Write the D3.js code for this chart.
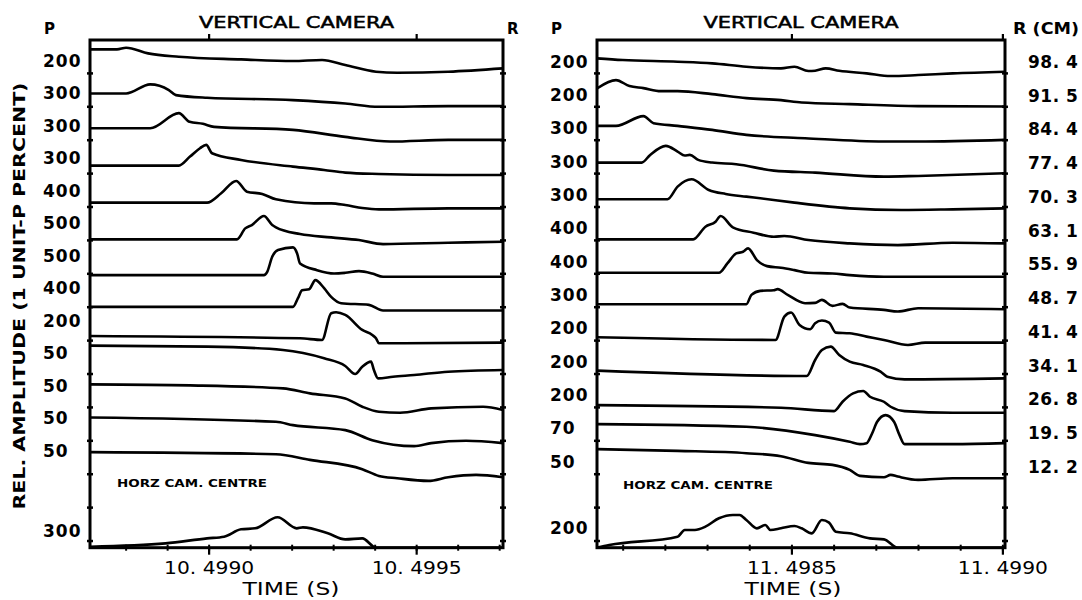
<!DOCTYPE html>
<html>
<head>
<meta charset="utf-8">
<script src="https://cdn.jsdelivr.net/npm/d3@7"></script>
<style>
  body { margin: 0; background: #fff; }
  svg { display: block; }
  text { fill: #000; font-family: "DejaVu Sans", sans-serif; }
</style>
</head>
<body>
<svg id="chart" width="1082" height="600"></svg>
<script>
// ---------------- data ----------------
// time windows (s) of the two record sections
const leftDomain  = [10.498713, 10.499708];
const rightDomain = [11.498038, 11.499005];
const leftMajorTicks  = [10.4990, 10.4995];
const rightMajorTicks = [11.4985, 11.4990];
const leftTickLabels  = ["10. 4990", "10. 4995"];
const rightTickLabels = ["11. 4985", "11. 4990"];
const leftMinorTicks  = d3.range(10.4988, 10.49971, 0.0001);
const rightMinorTicks = d3.range(11.4981, 11.49901, 0.0001);

// P (per cent per unit) for each trace, top to bottom
const leftP  = ["200","300","300","300","400","500","500","400","200","50","50","50","50"];
const rightP = ["200","200","300","300","300","400","400","300","200","200","200","70","50"];
const leftHorzP  = "300";
const rightHorzP = "200";
// source distance R (cm) for the right section
const rightR = ["98. 4","91. 5","84. 4","77. 4","70. 3","63. 1","55. 9","48. 7","41. 4","34. 1","26. 8","19. 5","12. 2"];

// traces: [time (s), relative amplitude (1/100 trace spacing)]
const leftTraces = [
  [[10.498713,72],[10.498778,72],[10.498800,77],[10.498853,60],[10.498927,50],[10.499077,42],[10.499202,37],[10.499272,40],[10.499328,25],[10.499402,5],[10.499453,2],[10.499576,5],[10.499708,15]],
  [[10.498713,40],[10.498800,40],[10.498858,67],[10.498903,50],[10.498920,35],[10.498995,27],[10.499202,20],[10.499328,10],[10.499409,0],[10.499576,2],[10.499708,2]],
  [[10.498713,36],[10.498858,36],[10.498927,81],[10.498953,55],[10.498985,49],[10.499012,40],[10.499202,31],[10.499328,10],[10.499436,-4],[10.499576,1],[10.499708,1]],
  [[10.498713,24],[10.498927,24],[10.498954,51],[10.498978,76],[10.498993,86],[10.499007,61],[10.499077,41],[10.499202,21],[10.499277,11],[10.499328,3],[10.499409,-1],[10.499576,-4],[10.499708,-4]],
  [[10.498713,13],[10.498995,13],[10.499029,41],[10.499065,78],[10.499091,46],[10.499128,39],[10.499161,23],[10.499253,11],[10.499294,11],[10.499328,6],[10.499369,-3],[10.499409,-7],[10.499576,-4],[10.499708,-4]],
  [[10.498713,3],[10.499067,3],[10.499087,36],[10.499103,46],[10.499132,73],[10.499152,46],[10.499161,39],[10.499219,19],[10.499294,9],[10.499361,1],[10.499419,-11],[10.499576,-7],[10.499708,-4]],
  [[10.498713,-4],[10.499132,-4],[10.499140,6],[10.499152,51],[10.499166,71],[10.499202,79],[10.499212,61],[10.499219,31],[10.499260,11],[10.499301,1],[10.499328,3],[10.499361,8],[10.499393,1],[10.499419,-9],[10.499708,-9]],
  [[10.498713,1],[10.499202,1],[10.499214,27],[10.499224,51],[10.499241,54],[10.499256,81],[10.499277,57],[10.499294,31],[10.499318,12],[10.499385,7],[10.499419,-10],[10.499708,-10]],
  [[10.498713,14],[10.499219,7],[10.499272,2],[10.499294,82],[10.499306,85],[10.499328,77],[10.499369,32],[10.499393,17],[10.499402,7],[10.499409,-8],[10.499708,-6]],
  [[10.498713,85],[10.498995,82],[10.499178,72],[10.499277,47],[10.499328,24],[10.499352,0],[10.499369,22],[10.499390,37],[10.499397,12],[10.499407,-13],[10.499443,-8],[10.499494,-3],[10.499576,7],[10.499708,12]],
  [[10.498713,69],[10.498954,66],[10.499178,57],[10.499243,42],[10.499328,27],[10.499369,2],[10.499409,-13],[10.499460,-16],[10.499535,-3],[10.499660,2],[10.499708,-8]],
  [[10.498713,70],[10.499161,57],[10.499202,47],[10.499328,32],[10.499393,2],[10.499494,-16],[10.499535,-7],[10.499619,0],[10.499708,-7]],
  [[10.498713,66],[10.499161,60],[10.499243,43],[10.499369,15],[10.499409,-5],[10.499453,-12],[10.499528,-20],[10.499576,-9],[10.499643,-2],[10.499708,-9]]
];
const leftHorz = [[10.498713,3],[10.498895,13],[10.498995,28],[10.499036,33],[10.499077,55],[10.499111,58],[10.499165,91],[10.499211,58],[10.499226,61],[10.499286,43],[10.499328,25],[10.499369,28],[10.499402,0],[10.499708,0]];

const rightTraces = [
  [[11.498038,45],[11.498099,40],[11.498229,35],[11.498311,30],[11.498392,20],[11.498474,15],[11.498506,20],[11.498539,7],[11.498555,8],[11.498580,15],[11.498612,8],[11.498677,0],[11.498734,-8],[11.498799,-5],[11.498881,0],[11.499005,5]],
  [[11.498038,55],[11.498083,80],[11.498115,62],[11.498148,56],[11.498189,47],[11.498229,47],[11.498311,38],[11.498392,26],[11.498474,20],[11.498523,13],[11.498637,8],[11.498799,2],[11.499005,1]],
  [[11.498038,43],[11.498083,43],[11.498148,72],[11.498172,51],[11.498229,43],[11.498311,31],[11.498392,16],[11.498531,6],[11.498718,-4],[11.498799,-4],[11.499005,1]],
  [[11.498038,33],[11.498144,33],[11.498164,56],[11.498201,83],[11.498229,66],[11.498246,54],[11.498258,56],[11.498278,41],[11.498311,33],[11.498368,28],[11.498457,9],[11.498555,3],[11.498718,-9],[11.498799,-7],[11.499005,1]],
  [[11.498038,23],[11.498205,23],[11.498229,61],[11.498262,83],[11.498303,51],[11.498343,39],[11.498392,31],[11.498425,26],[11.498506,13],[11.498637,-4],[11.498759,-9],[11.498881,-7],[11.499005,-4]],
  [[11.498038,3],[11.498266,3],[11.498295,41],[11.498319,56],[11.498331,73],[11.498360,39],[11.498409,23],[11.498457,11],[11.498482,13],[11.498539,1],[11.498637,-9],[11.498751,-14],[11.498881,-7],[11.499005,-9]],
  [[11.498038,3],[11.498327,3],[11.498347,31],[11.498368,61],[11.498384,66],[11.498396,76],[11.498417,41],[11.498441,23],[11.498474,18],[11.498506,11],[11.498539,3],[11.498596,1],[11.498637,-4],[11.498718,-9],[11.499005,-9]],
  [[11.498038,9],[11.498392,9],[11.498404,37],[11.498425,49],[11.498457,51],[11.498466,54],[11.498490,37],[11.498531,12],[11.498555,13],[11.498571,22],[11.498596,4],[11.498620,10],[11.498637,-1],[11.498718,-8],[11.498751,-13],[11.498799,-3],[11.499005,-6]],
  [[11.498038,10],[11.498461,2],[11.498482,72],[11.498498,84],[11.498518,47],[11.498543,34],[11.498555,52],[11.498571,60],[11.498588,54],[11.498604,24],[11.498637,22],[11.498677,12],[11.498718,2],[11.498775,-13],[11.498816,-6],[11.499005,-6]],
  [[11.498038,10],[11.498535,-6],[11.498555,42],[11.498571,72],[11.498592,82],[11.498612,57],[11.498637,37],[11.498669,27],[11.498710,7],[11.498726,-8],[11.498767,-16],[11.499005,-13]],
  [[11.498038,7],[11.498474,-1],[11.498600,-11],[11.498620,17],[11.498645,42],[11.498669,49],[11.498685,32],[11.498718,17],[11.498734,2],[11.498767,-11],[11.498881,-16],[11.499005,-16]],
  [[11.498038,50],[11.498392,42],[11.498555,17],[11.498637,-3],[11.498661,-10],[11.498677,-7],[11.498690,22],[11.498702,57],[11.498722,77],[11.498742,57],[11.498755,17],[11.498767,-10],[11.498881,-10],[11.499005,-7]],
  [[11.498038,75],[11.498229,70],[11.498392,63],[11.498474,54],[11.498539,34],[11.498596,28],[11.498637,13],[11.498661,-5],[11.498718,-9],[11.498734,-2],[11.498751,-7],[11.498799,-17],[11.498881,-12],[11.499005,-12]]
];
const rightHorz = [[11.498038,0],[11.498067,8],[11.498229,33],[11.498246,53],[11.498270,53],[11.498295,63],[11.498327,88],[11.498360,98],[11.498376,98],[11.498392,83],[11.498417,58],[11.498437,68],[11.498449,53],[11.498474,58],[11.498506,65],[11.498523,58],[11.498547,43],[11.498571,83],[11.498588,75],[11.498604,48],[11.498637,43],[11.498685,28],[11.498718,25],[11.498751,0],[11.499005,0]];

// ---------------- drawing ----------------
const svg = d3.select("#chart");
const TOP = 40, BOTTOM = 547.7;
const ROWS = 15.2;                 // frame height in trace spacings
const HORZ_ROW = ROWS;             // horizontal-camera trace sits on the bottom edge

function panel(cfg) {
  const g = svg.append("g");
  const x = d3.scaleLinear().domain(cfg.domain).range([cfg.x0, cfg.x1]);
  const y = d3.scaleLinear().domain([0, ROWS]).range([TOP, BOTTOM]);

  const clipId = "clip" + cfg.id;
  svg.append("clipPath").attr("id", clipId)
    .append("rect").attr("x", cfg.x0).attr("y", TOP - 2)
    .attr("width", cfg.x1 - cfg.x0).attr("height", BOTTOM - TOP + 4);

  const line = row => d3.line()
    .x(d => x(d[0]))
    .y(d => y(row - d[1] / 100))
    .curve(d3.curveMonotoneX);

  const traces = g.append("g").attr("clip-path", `url(#${clipId})`)
    .attr("fill", "none").attr("stroke", "#000")
    .attr("stroke-width", 2.6).attr("stroke-linejoin", "round").attr("stroke-linecap", "round");
  cfg.traces.forEach((tr, i) => {
    traces.append("path").attr("d", line(i + 1)(tr));
  });
  traces.append("path").attr("d", line(HORZ_ROW)(cfg.horz));

  // frame
  g.append("rect")
    .attr("x", cfg.x0).attr("y", TOP)
    .attr("width", cfg.x1 - cfg.x0).attr("height", BOTTOM - TOP)
    .attr("fill", "none").attr("stroke", "#000").attr("stroke-width", 3);

  // side ticks at each trace row
  const rows = d3.range(1, 16);
  [cfg.x0, cfg.x1].forEach(xe => {
    g.selectAll(null).data(rows).enter().append("line")
      .attr("x1", xe - 3).attr("x2", xe + 3)
      .attr("y1", d => y(d)).attr("y2", d => y(d))
      .attr("stroke", "#000").attr("stroke-width", 2.5);
  });

  // time axis: minor and major ticks on the bottom edge, majors on top
  g.selectAll(null).data(cfg.minor).enter().append("line")
    .attr("x1", d => x(d)).attr("x2", d => x(d))
    .attr("y1", BOTTOM - 3).attr("y2", BOTTOM + 3)
    .attr("stroke", "#000").attr("stroke-width", 2);
  g.selectAll(null).data(cfg.major).enter().append("line")
    .attr("x1", d => x(d)).attr("x2", d => x(d))
    .attr("y1", BOTTOM).attr("y2", BOTTOM + 7)
    .attr("stroke", "#000").attr("stroke-width", 2.2);
  g.selectAll(null).data(cfg.major).enter().append("line")
    .attr("x1", d => x(d)).attr("x2", d => x(d))
    .attr("y1", TOP - 6).attr("y2", TOP)
    .attr("stroke", "#000").attr("stroke-width", 2.2);

  g.selectAll(null).data(cfg.major).enter().append("text")
    .attr("x", d => x(d)).attr("y", 574)
    .attr("text-anchor", "middle")
    .attr("textLength", 90).attr("lengthAdjust", "spacingAndGlyphs")
    .style("font-family", "'DejaVu Sans Condensed', 'DejaVu Sans', sans-serif")
    .style("font-size", "18px")
    .text((d, i) => cfg.tickLabels[i]);

  g.append("text")
    .attr("x", cfg.timeX).attr("y", 595)
    .attr("text-anchor", "middle")
    .attr("textLength", 97).attr("lengthAdjust", "spacingAndGlyphs")
    .style("font-family", "'DejaVu Sans Condensed', 'DejaVu Sans', sans-serif")
    .style("font-size", "18px")
    .text("TIME  (S)");

  // title
  g.append("text")
    .attr("x", (cfg.x0 + cfg.x1) / 2).attr("y", 28)
    .attr("text-anchor", "middle")
    .attr("textLength", 195).attr("lengthAdjust", "spacingAndGlyphs")
    .style("font-size", "15px").style("stroke", "#000").style("stroke-width", 0.5)
    .text("VERTICAL CAMERA");

  // P labels
  const ly = d3.scaleLinear().domain([1, cfg.pLabels.length]).range(cfg.pRange);
  g.selectAll(null).data(cfg.pLabels).enter().append("text")
    .attr("x", cfg.pX).attr("y", (d, i) => ly(i + 1)).attr("dy", "0.36em")
    .style("font-size", "17px").style("font-weight", "bold").style("letter-spacing", "1px")
    .text(d => d);
  g.append("text")
    .attr("x", cfg.pX).attr("y", cfg.horzLabelY).attr("dy", "0.36em")
    .style("font-size", "17px").style("font-weight", "bold").style("letter-spacing", "1px")
    .text(cfg.horzP);
  g.append("text")
    .attr("x", cfg.pX + 1).attr("y", 34)
    .style("font-size", "15px").style("font-weight", "bold")
    .text("P");

  g.append("text")
    .attr("x", cfg.horzTextX).attr("y", cfg.horzTextY).attr("dy", "0.36em")
    .attr("textLength", 150).attr("lengthAdjust", "spacingAndGlyphs")
    .style("font-size", "11px").style("font-weight", "bold")
    .text("HORZ CAM. CENTRE");
  return { x, y };
}

panel({
  id: "L", domain: leftDomain, x0: 90, x1: 503,
  traces: leftTraces, horz: leftHorz,
  minor: leftMinorTicks, major: leftMajorTicks, tickLabels: leftTickLabels,
  timeX: 291, pLabels: leftP, horzP: leftHorzP, pX: 43, pRange: [60.7, 450.7],
  horzLabelY: 530.7, horzTextX: 117, horzTextY: 483
});

panel({
  id: "R", domain: rightDomain, x0: 597, x1: 1005,
  traces: rightTraces, horz: rightHorz,
  minor: rightMinorTicks, major: rightMajorTicks, tickLabels: rightTickLabels,
  timeX: 793, pLabels: rightP, horzP: rightHorzP, pX: 550, pRange: [61.7, 461.7],
  horzLabelY: 528.3, horzTextX: 623, horzTextY: 485
});

// R markers
svg.append("text").attr("x", 507).attr("y", 34)
  .style("font-size", "15px").style("font-weight", "bold").text("R");
svg.append("text").attr("x", 1013).attr("y", 34)
  .attr("textLength", 66).attr("lengthAdjust", "spacingAndGlyphs")
  .style("font-size", "15px").style("font-weight", "bold").text("R (CM)");

// distance labels
const ry = d3.scaleLinear().domain([1, rightR.length]).range([61.7, 466.7]);
svg.selectAll(null).data(rightR).enter().append("text")
  .attr("x", 1028).attr("y", (d, i) => ry(i + 1)).attr("dy", "0.36em")
  .style("font-size", "17px").style("font-weight", "bold").style("letter-spacing", "0.5px")
  .text(d => d);

// vertical axis title
svg.append("text")
  .attr("transform", "translate(25,296) rotate(-90)")
  .attr("text-anchor", "middle")
  .attr("textLength", 427).attr("lengthAdjust", "spacingAndGlyphs")
  .style("font-size", "15px").style("font-weight", "bold")
  .text("REL.  AMPLITUDE  (1 UNIT-P PERCENT)");
</script>
</body>
</html>
